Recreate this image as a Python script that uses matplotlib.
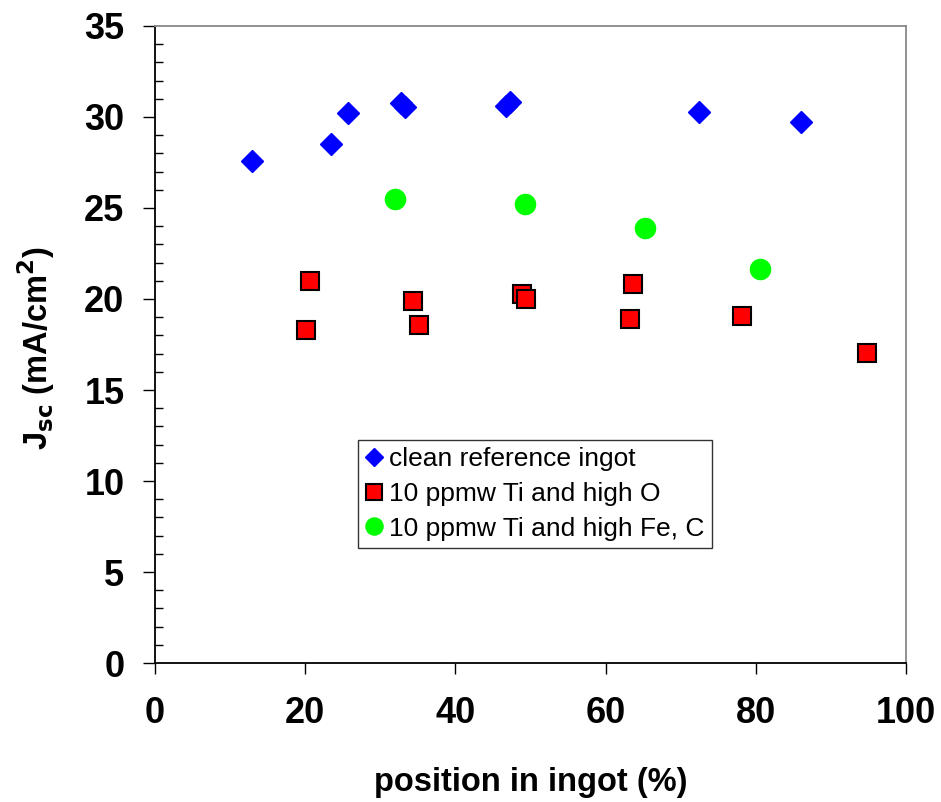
import matplotlib
matplotlib.use('Agg')
import matplotlib.pyplot as plt
from matplotlib.ticker import MultipleLocator

plt.rcParams['font.family'] = ['Liberation Sans', 'DejaVu Sans']

# clean reference ingot
ref_x = [12.9, 23.4, 25.7, 32.8, 33.3, 46.8, 47.3, 72.5, 86.0]
ref_y = [27.6, 28.5, 30.2, 30.75, 30.55, 30.6, 30.8, 30.25, 29.7]

# 10 ppmw Ti and high O
tio_x = [20.7, 20.1, 34.4, 35.1, 48.9, 49.4, 63.7, 63.2, 78.2, 94.8]
tio_y = [21.0, 18.27, 19.9, 18.55, 20.3, 20.0, 20.8, 18.9, 19.08, 17.05]

# 10 ppmw Ti and high Fe, C
tife_x = [32.0, 49.3, 65.3, 80.6]
tife_y = [25.48, 25.2, 23.9, 21.65]

fig = plt.figure(figsize=(9.41, 8.02), dpi=100)
ax = fig.add_axes([0.1647, 0.1733, 0.7981, 0.7943])

ax.plot(ref_x, ref_y, 'D', color='#0000ff', mec='#0000ff', ms=11, label='clean reference ingot')
ax.plot(tio_x, tio_y, 's', color='#ff0000', mec='black', mew=1.5, ms=13.5, label='10 ppmw Ti and high O')
ax.plot(tife_x, tife_y, 'o', color='#00ff00', mec='#00ff00', ms=14.5, label='10 ppmw Ti and high Fe, C')

ax.set_xlim(0, 100)
ax.set_ylim(0, 35)
ax.xaxis.set_major_locator(MultipleLocator(20))
ax.yaxis.set_major_locator(MultipleLocator(5))
ax.yaxis.set_minor_locator(MultipleLocator(1))

ax.tick_params(axis='x', which='major', direction='out', length=8, width=1, pad=16, labelsize=26)
ax.tick_params(axis='y', which='major', direction='out', length=9, width=1, pad=13, labelsize=26)
ax.tick_params(axis='y', which='minor', direction='in', length=6, width=1)
for lbl in ax.get_xticklabels() + ax.get_yticklabels():
    lbl.set_fontweight('bold')

for s in ['left', 'bottom']:
    ax.spines[s].set_color('black')
    ax.spines[s].set_linewidth(1.3)
for s in ['top', 'right']:
    ax.spines[s].set_color('#888888')
    ax.spines[s].set_linewidth(1.3)

ax.set_xlabel('position in ingot (%)', fontsize=23.5, fontweight='bold')
ax.set_ylabel(r'J$_{\mathbf{sc}}$ (mA/cm$^{\mathbf{2}}$)', fontsize=23.5, fontweight='bold')
ax.xaxis.set_label_coords(0.5, -0.163)
ax.yaxis.set_label_coords(-0.130, 0.495)

leg = ax.legend(loc='upper left', bbox_to_anchor=(0.270, 0.35), fontsize=19, frameon=True,
                fancybox=False, edgecolor='black', handlelength=0.65, handletextpad=0.25,
                borderpad=0.28, labelspacing=0.4, markerscale=0.85, borderaxespad=0)
leg.get_frame().set_linewidth(1.0)

fig.savefig('out.png', dpi=100)
